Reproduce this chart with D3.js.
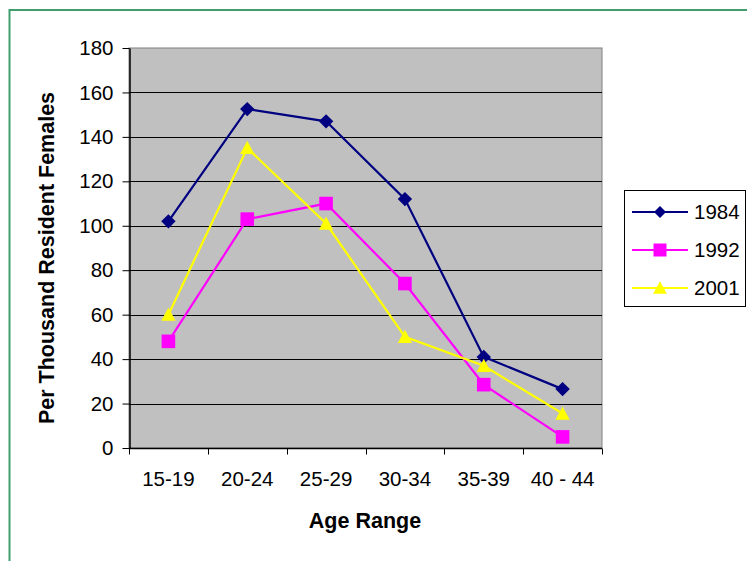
<!DOCTYPE html>
<html><head><meta charset="utf-8">
<script src="https://cdn.jsdelivr.net/npm/d3@7"></script>
<style>body{margin:0;background:#fff}svg{display:block}text{font-family:"Liberation Sans",Arial,sans-serif}</style>
</head><body>
<svg id="c" width="747" height="561"></svg>
<script>
const categories = ["15-19","20-24","25-29","30-34","35-39","40 - 44"];
const years = ["1984","1992","2001"];
const values1984 = [102, 152.5, 147, 112, 41, 26.5];
const values1992 = [48, 103, 110, 74, 28.5, 5];
const values2001 = [60, 135, 101, 50, 37, 15.5];
const yTicks = [0,20,40,60,80,100,120,140,160,180];
const colors = ["#000080","#FF00FF","#FFFF00"];
const markers = ["diamond","square","triangle"];
const seriesValues = [values1984, values1992, values2001];

const svg = d3.select("#c");
const m = {l:129, t:48, r:602, b:448};

// outer border
svg.append("rect").attr("x",9.5).attr("y",10).attr("width",800).attr("height",700)
  .attr("fill","none").attr("stroke","#3f9e6c").attr("stroke-width",2);

const x = d3.scaleBand().domain(categories).range([m.l,m.r]);
const y = d3.scaleLinear().domain([0,180]).range([m.b,m.t]);

svg.append("rect").attr("x",m.l).attr("y",m.t).attr("width",m.r-m.l).attr("height",m.b-m.t)
  .attr("fill","#C0C0C0").attr("stroke","#808080").attr("stroke-width",1);

svg.append("g").selectAll("line").data(yTicks.filter(d=>d>0 && d<180)).join("line")
  .attr("x1",m.l).attr("x2",m.r).attr("y1",d=>Math.round(y(d))+0.5).attr("y2",d=>Math.round(y(d))+0.5)
  .attr("stroke","#000").attr("stroke-width",1);

// y axis
const ya = svg.append("g").attr("transform",`translate(${m.l+0.5},0)`)
  .call(d3.axisLeft(y).tickValues(yTicks).tickSize(7).tickPadding(9).tickSizeOuter(0));
ya.select(".domain").attr("stroke","#000").attr("stroke-width",1.5);
ya.selectAll(".tick line").attr("stroke","#000");
ya.selectAll("text").attr("font-size","20.5px").attr("fill","#000").attr("font-family","Liberation Sans, Arial, sans-serif");

// x axis
const xTickScale = d3.scaleLinear().domain([0,categories.length]).range([m.l,m.r]);
const xa = svg.append("g").attr("transform",`translate(0,${m.b+0.5})`);
xa.append("line").attr("x1",m.l).attr("x2",m.r).attr("stroke","#000").attr("stroke-width",1.5);
xa.selectAll("line.t").data(d3.range(categories.length+1)).join("line").attr("class","t")
  .attr("x1",d=>Math.round(xTickScale(d))+0.5).attr("x2",d=>Math.round(xTickScale(d))+0.5)
  .attr("y1",0).attr("y2",6).attr("stroke","#000");
xa.selectAll("text").data(categories).join("text")
  .attr("x",d=>x(d)+x.bandwidth()/2).attr("y",37).attr("text-anchor","middle")
  .attr("font-size","20.5px").text(d=>d);

// axis titles
svg.append("text").attr("transform","translate(54,258) rotate(-90)").attr("text-anchor","middle")
  .attr("font-size","21.5px").attr("font-weight","bold").text("Per Thousand Resident Females");
svg.append("text").attr("x",365).attr("y",528).attr("text-anchor","middle")
  .attr("font-size","21.5px").attr("font-weight","bold").text("Age Range");

function markerPath(type, s){
  if(type==="diamond") return `M0,${-s}L${s},0L0,${s}L${-s},0Z`;
  if(type==="square") return `M${-s},${-s}H${s}V${s}H${-s}Z`;
  return `M0,${-s*1.05}L${s*1.05},${s*0.9}L${-s*1.05},${s*0.9}Z`;
}
const markerSize = {diamond:7.2, square:6.8, triangle:6.8};

const line = d3.line().x((d,i)=>x(categories[i])+x.bandwidth()/2).y(d=>y(d));
seriesValues.forEach((vals,si)=>{
  const g = svg.append("g");
  g.append("path").datum(vals).attr("d",line).attr("fill","none")
    .attr("stroke",colors[si]).attr("stroke-width",2.2);
  g.selectAll("path.mk").data(vals).join("path").attr("class","mk")
    .attr("transform",(d,i)=>`translate(${x(categories[i])+x.bandwidth()/2},${y(d)})`)
    .attr("d",markerPath(markers[si],markerSize[markers[si]])).attr("fill",colors[si]);
});

// legend
const lg = svg.append("g");
lg.append("rect").attr("x",624.5).attr("y",190.5).attr("width",121).attr("height",116)
  .attr("fill","#fff").attr("stroke","#000").attr("stroke-width",1);
const ly = d3.scalePoint().domain(years).range([212,288]);
years.forEach((yr,si)=>{
  const cy = ly(yr);
  lg.append("line").attr("x1",632).attr("x2",688).attr("y1",cy).attr("y2",cy)
    .attr("stroke",colors[si]).attr("stroke-width",2);
  lg.append("path").attr("transform",`translate(660,${cy})`)
    .attr("d",markerPath(markers[si], si===0?6:6.5)).attr("fill",colors[si]);
  lg.append("text").attr("x",694).attr("y",cy+7).attr("font-size","20.5px").text(yr);
});
</script>
</body></html>
